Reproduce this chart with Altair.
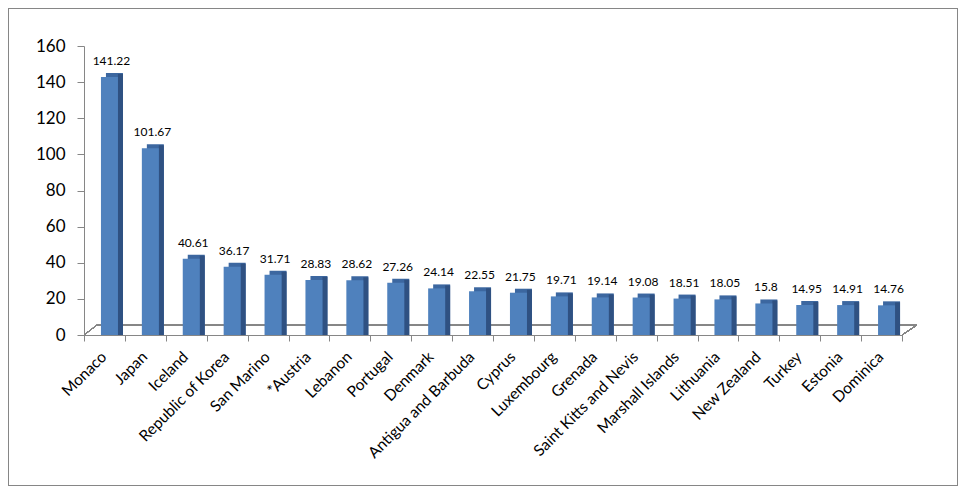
import altair as alt
import pandas as pd

countries = ["Monaco", "Japan", "Iceland", "Republic of Korea", "San Marino", "*Austria",
             "Lebanon", "Portugal", "Denmark", "Antigua and Barbuda", "Cyprus", "Luxembourg",
             "Grenada", "Saint Kitts and Nevis", "Marshall Islands", "Lithuania", "New Zealand",
             "Turkey", "Estonia", "Dominica"]
values = [141.22, 101.67, 40.61, 36.17, 31.71, 28.83, 28.62, 27.26, 24.14, 22.55, 21.75,
          19.71, 19.14, 19.08, 18.51, 18.05, 15.8, 14.95, 14.91, 14.76]
labels = ["141.22", "101.67", "40.61", "36.17", "31.71", "28.83", "28.62", "27.26", "24.14",
          "22.55", "21.75", "19.71", "19.14", "19.08", "18.51", "18.05", "15.8", "14.95",
          "14.91", "14.76"]

df = pd.DataFrame({"country": countries, "value": values, "label": labels})

W, H = 818, 289
FONT = "Lato"
GRAY = "#868686"

x = alt.X("country:N", sort=None,
          scale=alt.Scale(paddingInner=0, paddingOuter=0),
          axis=alt.Axis(title=None, labelAngle=-45, labelFontSize=15.5, labelFont=FONT,
                        labelColor="black", tickBand="extent", domainColor=GRAY,
                        tickColor=GRAY, tickSize=6, labelPadding=8, labelOffset=-6))
y = alt.Y("value:Q", scale=alt.Scale(domain=[0, 160]),
          axis=alt.Axis(title=None, values=[0, 20, 40, 60, 80, 100, 120, 140, 160],
                        labelFontSize=17, labelFont=FONT, labelColor="black", grid=False,
                        domainColor=GRAY, tickColor=GRAY, tickSize=7, labelPadding=12))

base = alt.Chart(df)

back = base.mark_bar(width=17, xOffset=10, yOffset=-7, color="#3C67A0").encode(
    x=x, y=y, y2=alt.datum(0))
side = base.mark_bar(width=5, xOffset=16, yOffset=-6, color="#2F5182").encode(
    x=x, y=y, y2=alt.datum(0))
front = base.mark_bar(width=17, xOffset=5, yOffset=-3, color="#4F81BD").encode(
    x=x, y=y, y2=alt.datum(0))
text = base.mark_text(xOffset=7, yOffset=-15, baseline="alphabetic", fontSize=12,
                      font=FONT, color="black").encode(x=x, y=y, text="label:N")

floor_back = base.mark_rule(color=GRAY, strokeWidth=1).encode(
    x=alt.value(13), x2=alt.value(W + 15), y=alt.value(H - 10))
floor_left = base.mark_rule(color=GRAY, strokeWidth=1).encode(
    x=alt.value(0), x2=alt.value(13), y=alt.value(H), y2=alt.value(H - 10))
floor_right = base.mark_rule(color=GRAY, strokeWidth=1).encode(
    x=alt.value(W), x2=alt.value(W + 15), y=alt.value(H), y2=alt.value(H - 10))

border = base.mark_rect(fill=None, stroke=GRAY, strokeWidth=1).encode(
    x=alt.value(-75.5), x2=alt.value(873.5), y=alt.value(-37.5), y2=alt.value(439.5))

chart = alt.layer(border, floor_back, floor_left, floor_right, back, side, front, text).properties(
    width=W, height=H,
    autosize=alt.AutoSizeParams(type="none"),
    padding={"left": 76, "top": 38, "right": 56, "bottom": 151},
).configure_view(stroke=None)

chart.save("out.html", embed_options={"renderer": "svg", "actions": False})
